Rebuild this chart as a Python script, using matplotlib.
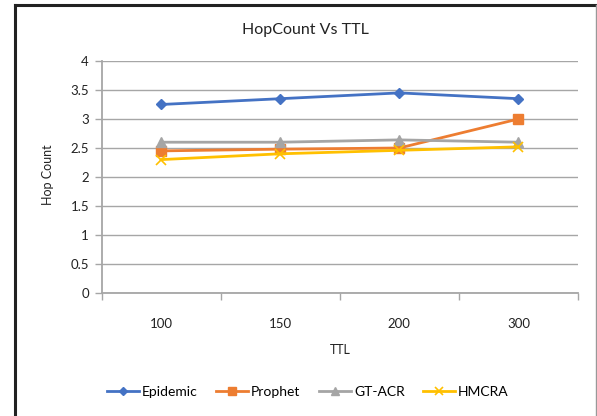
import matplotlib.pyplot as plt
from matplotlib.lines import Line2D

ttl = ["100", "150", "200", "300"]
epidemic = [3.25, 3.35, 3.45, 3.35]
prophet = [2.45, 2.48, 2.5, 3.0]
gt_acr = [2.6, 2.6, 2.64, 2.6]
hmcra = [2.3, 2.4, 2.46, 2.52]

W, H = 597, 416
fig = plt.figure(figsize=(W / 100, H / 100), dpi=100)
plt.rcParams['font.family'] = ['Lato', 'DejaVu Sans']

# outer chart frame
fig.add_artist(Line2D([15 / W, 15 / W], [0, 1 - 5 / H], transform=fig.transFigure, color="#222222", lw=2.2))
fig.add_artist(Line2D([15 / W, 1], [1 - 5 / H, 1 - 5 / H], transform=fig.transFigure, color="#222222", lw=2.2))
fig.add_artist(Line2D([595.5 / W, 595.5 / W], [0, 1 - 5 / H], transform=fig.transFigure, color="#999999", lw=1))

ax = fig.add_axes([101.5 / W, 1 - 293 / H, (578 - 101.5) / W, (293 - 61) / H])
x = list(range(len(ttl)))

ax.plot(x, epidemic, color="#4472C4", lw=2, marker="D", ms=5, label="Epidemic")
ax.plot(x, prophet, color="#ED7D31", lw=2, marker="s", ms=7, label="Prophet")
ax.plot(x, gt_acr, color="#A5A5A5", lw=2, marker="^", ms=7, label="GT-ACR")
ax.plot(x, hmcra, color="#FFC000", lw=2, marker="x", ms=7, mew=1.2, label="HMCRA")

ax.set_xlim(-0.5, len(ttl) - 0.5)
ax.set_ylim(0, 4)
ax.set_yticks([0, 0.5, 1, 1.5, 2, 2.5, 3, 3.5, 4])
ax.set_yticklabels(["0", "0.5", "1", "1.5", "2", "2.5", "3", "3.5", "4"])
ax.set_xticks(x)
ax.set_xticklabels(ttl)
ax.set_xticks([i - 0.5 for i in range(len(ttl) + 1)], minor=True)
ax.tick_params(axis="x", which="major", length=0, pad=18, labelsize=9.5, colors="#222222")
ax.tick_params(axis="x", which="minor", length=5, width=1, color="#A6A6A6", direction="out")
ax.tick_params(axis="y", length=5, width=1, color="#A6A6A6", labelsize=9.5, labelcolor="#222222", pad=4)

ax.grid(axis="y", color="#A6A6A6", lw=1)
ax.set_axisbelow(True)
for side in ["top", "right"]:
    ax.spines[side].set_visible(False)
ax.spines["left"].set_color("#A6A6A6")
ax.spines["bottom"].set_color("#A6A6A6")
ax.spines["left"].set_linewidth(1.3)
ax.spines["bottom"].set_linewidth(1.3)

fig.text(305 / W, 1 - 30 / H, "HopCount Vs TTL", ha="center", va="center", fontsize=11.5, color="#222222")
fig.text(340 / W, 1 - 350 / H, "TTL", ha="center", va="center", fontsize=9, color="#222222")
fig.text(48 / W, 1 - 175 / H, "Hop Count", ha="center", va="center", rotation=90, fontsize=9, color="#222222")

fig.legend(loc="center", bbox_to_anchor=(308 / W, 1 - 392 / H), ncol=4, frameon=False,
           fontsize=10, handlelength=2.3, columnspacing=1.35, handletextpad=0.2, markerscale=0.8)

plt.savefig("out.png", dpi=100)
